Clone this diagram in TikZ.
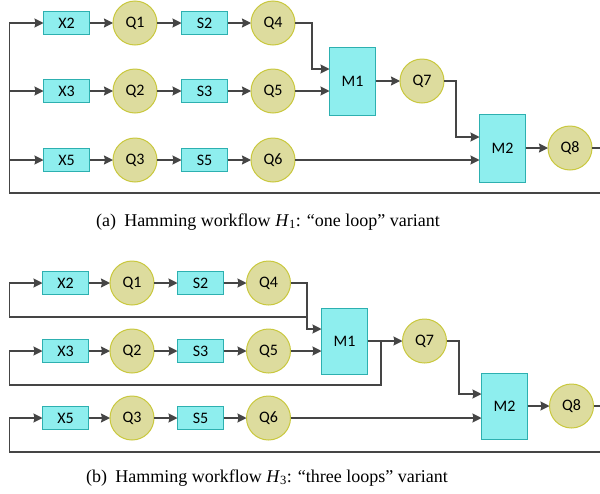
\documentclass[tikz,border=0pt]{standalone}
\usepackage{fontspec}
\setmainfont{Liberation Serif}
\newfontfamily\boxfont{Carlito}
\usetikzlibrary{arrows.meta}
\definecolor{B}{HTML}{8EEEEE}
\definecolor{Bl}{HTML}{2DB0B0}
\definecolor{Q}{HTML}{DDDC9E}
\definecolor{Ql}{HTML}{C9C83E}
\definecolor{L}{HTML}{454545}
\tikzstyle{base}=[x=1pt, y=-1pt, inner sep=0pt, outer sep=0pt]
\tikzstyle{task}=[draw=Bl, fill=B, line width=1pt, minimum width=46pt, minimum height=23pt, font=\boxfont\fontsize{16}{16}\selectfont]
\tikzstyle{merge}=[task, minimum height=68pt]
\tikzstyle{queue}=[circle, draw=Ql, fill=Q, line width=1pt, minimum size=44pt, font=\boxfont\fontsize{16}{16}\selectfont]
\tikzstyle{wire}=[draw=L, line width=1.4pt]
\tikzstyle{link}=[wire, -{Stealth[length=9pt,width=9pt,inset=1pt]}]
\tikzstyle{caption}=[font=\fontsize{18}{20}\selectfont]

\begin{document}
\begin{tikzpicture}[base]
    \useasboundingbox (0,0) rectangle (600,493);
    % (a) one loop
        \node [task] (x2a) at (66.5,23) {X2};
        \node [queue] (q1a) at (135,23) {Q1};
        \node [task] (s2a) at (204.5,23) {S2};
        \node [queue] (q4a) at (273,23) {Q4};
        \node [task] (x3a) at (66.5,91) {X3};
        \node [queue] (q2a) at (135,91) {Q2};
        \node [task] (s3a) at (204.5,91) {S3};
        \node [queue] (q5a) at (273,91) {Q5};
        \node [task] (x5a) at (66.5,160) {X5};
        \node [queue] (q3a) at (135,160) {Q3};
        \node [task] (s5a) at (204.5,160) {S5};
        \node [queue] (q6a) at (273,160) {Q6};
        \node [merge] (m1a) at (352.5,81) {M1};
        \node [queue] (q7a) at (422,81) {Q7};
        \node [merge] (m2a) at (502.5,148) {M2};
        \node [queue] (q8a) at (570,148) {Q8};
        \coordinate (outa) at (600,148);
        \coordinate (reta) at (600,193);
        \coordinate (lefta) at (9.5,193);
        \draw [link] (x2a) -- (q1a);
        \draw [link] (q1a) -- (s2a);
        \draw [link] (s2a) -- (q4a);
        \draw [link] (x3a) -- (q2a);
        \draw [link] (q2a) -- (s3a);
        \draw [link] (s3a) -- (q5a);
        \draw [link] (x5a) -- (q3a);
        \draw [link] (q3a) -- (s5a);
        \draw [link] (s5a) -- (q6a);
        \draw [link] (q4a.east) -- ++(17,0) |- ([yshift=12pt]m1a.west);
        \draw [link] (q5a) -- (q5a -| m1a.west);
        \draw [link] (m1a) -- (q7a);
        \draw [link] (q7a.east) -- ++(12,0) |- ([yshift=11pt]m2a.west);
        \draw [link] (q6a) -- (q6a -| m2a.west);
        \draw [link] (m2a) -- (q8a);
        \draw [wire] (q8a) -- (outa);
        \draw [link] (reta) -- (lefta) |- (x2a);
        \draw [link] (lefta |- x3a) -- (x3a);
        \draw [link] (lefta |- x5a) -- (x5a);
        \node [caption] (capa) at (268,222) {(a)\hspace{.45em}Hamming workflow \textit{H}\textsubscript{1}: “one loop” variant};
    % (b) three loops
        \node [task] (x2b) at (65.5,283) {X2};
        \node [queue] (q1b) at (132,283) {Q1};
        \node [task] (s2b) at (200.5,283) {S2};
        \node [queue] (q4b) at (268.5,283) {Q4};
        \node [task] (x3b) at (65.5,351) {X3};
        \node [queue] (q2b) at (132,351) {Q2};
        \node [task] (s3b) at (200.5,351) {S3};
        \node [queue] (q5b) at (268.5,351) {Q5};
        \node [task] (x5b) at (65.5,418) {X5};
        \node [queue] (q3b) at (132,418) {Q3};
        \node [task] (s5b) at (200.5,418) {S5};
        \node [queue] (q6b) at (268.5,418) {Q6};
        \node [merge, minimum height=66pt] (m1b) at (344.5,341) {M1};
        \node [queue] (q7b) at (424.5,341) {Q7};
        \node [merge, minimum height=66pt] (m2b) at (504.5,406) {M2};
        \node [queue] (q8b) at (571.5,406) {Q8};
        \coordinate (j2b) at (381,341);
        \coordinate (l1b) at (9.5,317);
        \coordinate (l2b) at (9.5,385);
        \coordinate (l3b) at (9.5,452);
        \coordinate (outb) at (600,406);
        \coordinate (retb) at (600,452);
        \draw [link] (x2b) -- (q1b);
        \draw [link] (q1b) -- (s2b);
        \draw [link] (s2b) -- (q4b);
        \draw [link] (x3b) -- (q2b);
        \draw [link] (q2b) -- (s3b);
        \draw [link] (s3b) -- (q5b);
        \draw [link] (x5b) -- (q3b);
        \draw [link] (q3b) -- (s5b);
        \draw [link] (s5b) -- (q6b);
        \draw [link] (q4b.east) -- ++(16.5,0) coordinate (j1b) |- ([yshift=12pt]m1b.west);
        \draw [link] (j1b |- l1b) -- (l1b) |- (x2b);
        \draw [link] (q5b) -- (q5b -| m1b.west);
        \draw [link] (m1b) -- (q7b);
        \draw [link] (j2b) |- (l2b) |- (x3b);
        \draw [link] (q7b.east) -- ++(12.5,0) |- ([yshift=12pt]m2b.west);
        \draw [link] (q6b) -- (q6b -| m2b.west);
        \draw [link] (m2b) -- (q8b);
        \draw [wire] (q8b) -- (outb);
        \draw [link] (retb) -- (l3b) |- (x5b);
        \node [caption] (capb) at (267,478) {(b)\hspace{.45em}Hamming workflow \textit{H}\textsubscript{3}: “three loops” variant};
\end{tikzpicture}
\end{document}
